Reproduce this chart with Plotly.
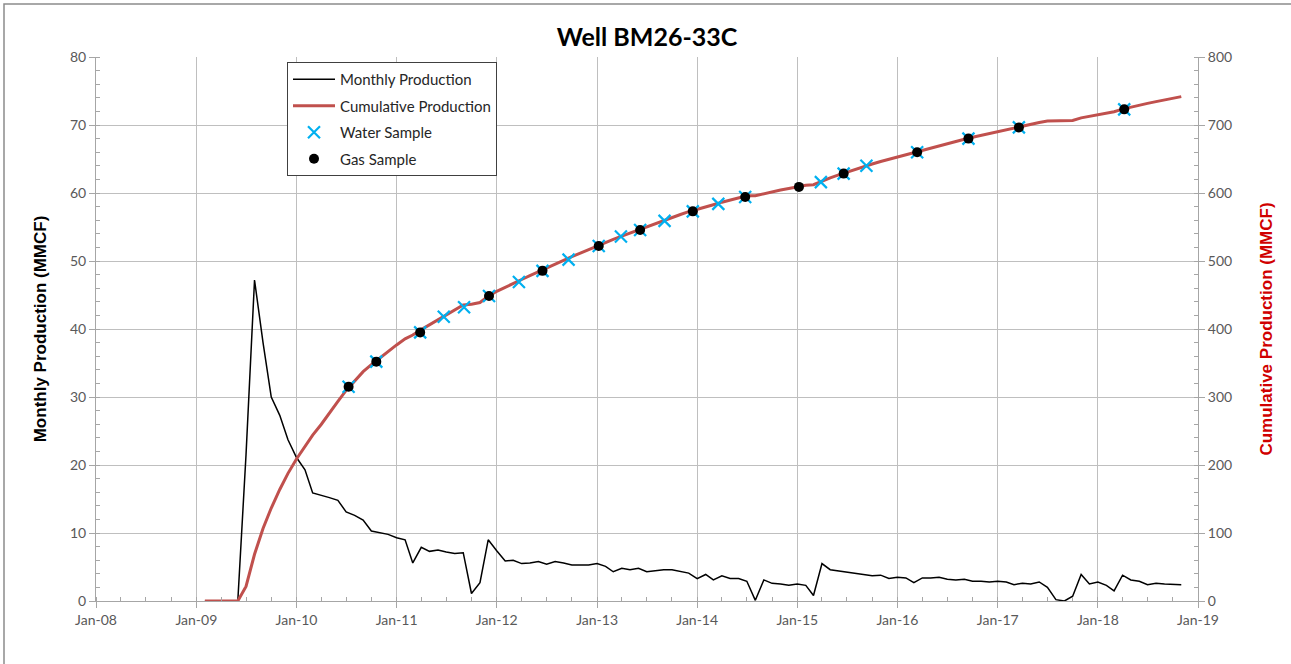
import pandas as pd
import plotly.graph_objects as go

# ---------------- data ----------------
start_month = "2009-02-01"
monthly = [
    # 2009 Feb-Dec
    0, 0, 0, 0, 0, 21.5, 47.2, 38.0, 30.0, 27.3, 23.7,
    # 2010
    21.1, 19.3, 15.9, 15.6, 15.2, 14.8, 13.1, 12.6, 11.9, 10.3, 10.0, 9.8,
    # 2011
    9.3, 9.0, 5.6, 7.9, 7.3, 7.5, 7.2, 7.0, 7.1, 1.1, 2.7, 9.0,
    # 2012
    7.4, 5.9, 6.0, 5.5, 5.6, 5.8, 5.4, 5.8, 5.6, 5.3, 5.3, 5.3,
    # 2013
    5.5, 5.1, 4.3, 4.8, 4.6, 4.8, 4.3, 4.5, 4.6, 4.6, 4.4, 4.1,
    # 2014
    3.3, 3.9, 3.1, 3.7, 3.3, 3.3, 2.9, 0.1, 3.1, 2.6, 2.5, 2.3,
    # 2015
    2.5, 2.3, 0.8, 5.5, 4.6, 4.4, 4.2, 4.1, 3.9, 3.7, 3.8, 3.3,
    # 2016
    3.5, 3.4, 2.7, 3.4, 3.4, 3.5, 3.2, 3.1, 3.2, 2.9, 2.9, 2.8,
    # 2017
    2.9, 2.8, 2.4, 2.6, 2.5, 2.8, 2.0, 0.2, 0.0, 0.7, 3.9, 2.5,
    # 2018 Jan-Nov
    2.8, 2.3, 1.5, 3.8, 3.1, 2.9, 2.4, 2.6, 2.5, 2.4, 2.4,
]
cumulative = [
    0, 0, 0, 0, 0, 21.5, 68.7, 106.7, 136.7, 164.0, 187.7,
    208.8, 228.1, 244.0, 259.6, 276.8, 293.6, 309.7, 324.3, 337.2, 347.5, 357.5, 367.3,
    376.6, 385.6, 391.2, 399.1, 406.4, 413.9, 421.1, 428.1, 435.2, 436.3, 439.0, 448.0,
    455.4, 461.3, 467.3, 472.8, 478.4, 484.2, 489.6, 495.4, 501.0, 506.3, 511.6, 516.9,
    522.4, 527.5, 531.8, 536.6, 541.2, 546.0, 550.3, 554.8, 559.4, 564.0, 568.4, 572.5,
    575.8, 579.7, 582.8, 586.5, 589.8, 593.1, 596.0, 596.1, 599.2, 601.8, 604.3, 606.6,
    609.1, 611.4, 612.2, 617.7, 622.3, 626.7, 630.9, 635.0, 638.9, 642.6, 646.4, 649.7,
    653.2, 656.6, 659.3, 662.7, 666.1, 669.6, 672.8, 675.9, 679.1, 682.0, 684.9, 687.7,
    690.6, 693.4, 695.8, 698.4, 700.9, 703.7, 705.7, 705.9, 705.9, 706.6, 710.5, 713.0,
    715.8, 718.1, 719.6, 723.4, 726.5, 729.4, 731.8, 734.4, 736.9, 739.3, 741.7,
]
water_dates = [
    "2010-07-10", "2010-10-19", "2011-03-28", "2011-06-22", "2011-09-04",
    "2011-12-04", "2012-03-22", "2012-06-16", "2012-09-19", "2013-01-07",
    "2013-03-29", "2013-06-07", "2013-09-04", "2013-12-16", "2014-03-19",
    "2014-06-25", "2015-03-28", "2015-06-19", "2015-09-10", "2016-03-13",
    "2016-09-16", "2017-03-19", "2018-04-07",
]
water_cum = [
    315, 352, 395, 418, 432,
    448.5, 469, 485.5, 502, 522,
    536, 545.5, 559, 573, 584,
    594, 616, 628.5, 640, 660,
    680, 696.5, 723,
]
gas_dates = [
    "2010-07-10", "2010-10-19", "2011-03-28", "2011-12-04", "2012-06-16",
    "2013-01-07", "2013-06-07", "2013-12-16", "2014-06-25", "2015-01-07",
    "2015-06-19", "2016-03-13", "2016-09-16", "2017-03-19", "2018-04-07",
]
gas_cum = [
    315, 352, 395, 448.5, 485.5,
    522, 545.5, 573, 594, 609,
    628.5, 660, 680, 696.5, 723,
]

month_dates = pd.date_range(start_month, periods=len(monthly), freq="MS")

# ---------------- figure ----------------
TICK_FONT = dict(family="Lato, Calibri, sans-serif", size=14, color="#595959")
GRID = "#BFBFBF"
AXL = "#A6A6A6"

fig = go.Figure()
fig.add_trace(go.Scatter(
    x=month_dates, y=monthly, mode="lines", name="Monthly Production",
    line=dict(color="black", width=1.5), legendgroup="a", yaxis="y"))
fig.add_trace(go.Scatter(
    x=month_dates, y=cumulative, mode="lines", name="Cumulative Production",
    line=dict(color="#C0504D", width=3), legendgroup="b", yaxis="y2"))
fig.add_trace(go.Scatter(
    x=water_dates, y=water_cum, mode="markers", name="Water Sample",
    marker=dict(symbol="x-thin", size=12, line=dict(color="#00B0F0", width=2.2)),
    legendgroup="c", yaxis="y2"))
fig.add_trace(go.Scatter(
    x=gas_dates, y=gas_cum, mode="markers", name="Gas Sample",
    marker=dict(symbol="circle", size=10, color="black"),
    legendgroup="d", yaxis="y2"))

fig.update_layout(
    width=1291, height=664,
    margin=dict(l=96, r=93, t=57, b=63),
    paper_bgcolor="white", plot_bgcolor="white",
    title=dict(text="<b>Well BM26-33C</b>", x=0.5, xref="paper",
               y=1 - 37 / 664, yref="container", yanchor="middle",
               font=dict(family="Lato, Calibri, sans-serif", size=25, color="black")),
    xaxis=dict(
        type="date", range=["2008-01-01", "2019-01-01"], dtick="M12",
        tick0="2008-01-01", tickformat="%b-%y", tickfont=TICK_FONT,
        showgrid=True, gridcolor=GRID, gridwidth=1.2,
        showline=True, linecolor=AXL, linewidth=1,
        ticks="outside", ticklen=6, tickcolor=AXL,
        minor=dict(dtick="M3", ticks="inside", ticklen=4, tickcolor=AXL, showgrid=False),
        zeroline=False,
    ),
    yaxis=dict(
        range=[0, 80], dtick=10, tickfont=TICK_FONT,
        showgrid=True, gridcolor=GRID, gridwidth=1.2,
        showline=True, linecolor=AXL, linewidth=1,
        ticks="outside", ticklen=6, tickcolor=AXL,
        minor=dict(dtick=2, ticks="inside", ticklen=4, tickcolor=AXL, showgrid=False),
        zeroline=False,
        title=dict(text="<b>Monthly Production (MMCF)</b>", standoff=19,
                   font=dict(family="Liberation Sans, Arial, sans-serif", size=17, color="black")),
    ),
    yaxis2=dict(
        range=[0, 800], dtick=100, tickfont=TICK_FONT, overlaying="y", side="right",
        showgrid=False, showline=True, linecolor=AXL, linewidth=1,
        ticks="outside", ticklen=6, tickcolor=AXL,
        minor=dict(dtick=20, ticks="inside", ticklen=4, tickcolor=AXL, showgrid=False),
        zeroline=False,
        title=dict(text="<b>Cumulative Production (MMCF)</b>", standoff=28,
                   font=dict(family="Liberation Sans, Arial, sans-serif", size=17, color="#D00000")),
    ),
    legend=dict(
        x=(287 - 96) / 1102, y=(601 - 62) / 544, xanchor="left", yanchor="top",
        bgcolor="white", bordercolor="#404040", borderwidth=1,
        font=dict(family="Lato, Calibri, sans-serif", size=15, color="#262626"),
        tracegroupgap=4, itemwidth=42,
    ),
    showlegend=True,
    shapes=[dict(type="rect", xref="paper", yref="paper",
                 x0=(4 - 96) / 1102, x1=1.2, y0=-0.2, y1=(601 - 4) / 544,
                 line=dict(color="#8C8C8C", width=1.5), fillcolor="rgba(0,0,0,0)",
                 layer="below")],
)

fig.write_html("out.html", config={"displayModeBar": False},
               post_script="document.body.style.margin='0px';")
